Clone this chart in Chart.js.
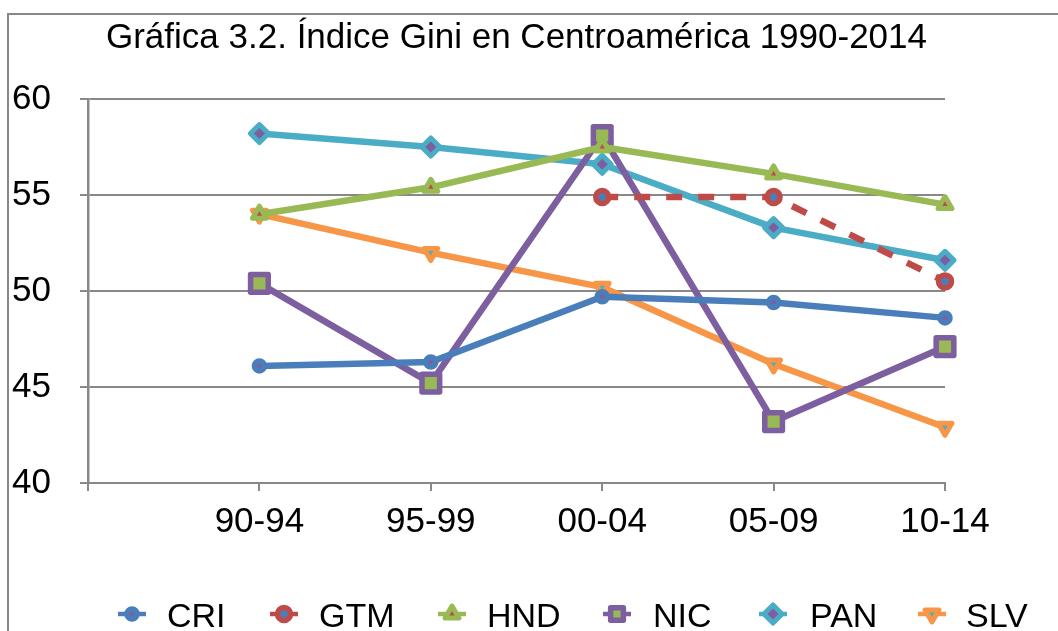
<!DOCTYPE html>
<html>
<head>
<meta charset="utf-8">
<script src="https://cdn.jsdelivr.net/npm/chart.js@4/dist/chart.umd.min.js"></script>
<style>
  html, body { margin: 0; padding: 0; background: #fff; }
  canvas { display: block; }
</style>
</head>
<body>
<canvas id="c" width="1058" height="631"></canvas>
<script>
const titleText = "Gráfica 3.2. Índice Gini en Centroamérica 1990-2014";
const categories = ["", "90-94", "95-99", "00-04", "05-09", "10-14"];
const seriesNames = ["CRI", "GTM", "HND", "NIC", "PAN", "SLV"];
const cri = [null, 46.1, 46.3, 49.7, 49.4, 48.6];
const gtm = [null, null, null, 54.9, 54.9, 50.5];
const hnd = [null, 54.0, 55.4, 57.5, 56.1, 54.5];
const nic = [null, 50.4, 45.2, 58.1, 43.2, 47.1];
const pan = [null, 58.2, 57.5, 56.6, 53.3, 51.6];
const slv = [null, 54.0, 52.0, 50.2, 46.2, 42.9];
const yTicks = [40, 45, 50, 55, 60];

const FONT = "'Liberation Sans', Arial, Helvetica, sans-serif";

const styles = [
  { color: '#4A7EBB', fill: '#7D5FA0', pointStyle: 'circle', radius: 5, bw: 5.5, rot: 0 },
  { color: '#BE4B48', fill: '#4A7EBB', pointStyle: 'circle', radius: 6.5, bw: 5.5, rot: 0, dash: [16, 16] },
  { color: '#98B954', fill: '#BE4B48', pointStyle: 'triangle', radius: 8, bw: 5, rot: 0 },
  { color: '#7D5FA0', fill: '#98B954', pointStyle: 'rect', radius: 12.5, bw: 5.5, rot: 0 },
  { color: '#4BACC6', fill: '#7D5FA0', pointStyle: 'rectRot', radius: 9, bw: 5, rot: 0 },
  { color: '#F79646', fill: '#4BACC6', pointStyle: 'triangle', radius: 8, bw: 5, rot: 180 }
];
const seriesData = [cri, gtm, hnd, nic, pan, slv];

const datasets = seriesNames.map((name, i) => {
  const s = styles[i];
  return {
    label: name,
    data: seriesData[i],
    borderColor: s.color,
    backgroundColor: s.fill,
    borderWidth: 6.5,
    borderDash: s.dash || [],
    borderCapStyle: 'butt',
    borderJoinStyle: 'round',
    pointStyle: s.pointStyle,
    pointRadius: s.radius,
    pointHoverRadius: s.radius,
    pointBorderWidth: s.bw,
    pointBorderColor: s.color,
    pointBackgroundColor: s.fill,
    pointRotation: s.rot,
    tension: 0,
    spanGaps: false,
    clip: false
  };
});

const legendMarkerX = [132, 284, 452, 617, 773, 932];
const legendTextX = [167, 319, 487, 653, 810, 966];

const decorPlugin = {
  id: 'decor',
  beforeDraw(chart) {
    const ctx = chart.ctx;
    ctx.save();
    ctx.fillStyle = '#fff';
    ctx.fillRect(0, 0, chart.width, chart.height);
    ctx.strokeStyle = '#888';
    ctx.lineWidth = 2;
    ctx.beginPath();
    ctx.moveTo(8, chart.height);
    ctx.lineTo(8, 14);
    ctx.lineTo(chart.width, 14);
    ctx.stroke();
    ctx.restore();
  },
  beforeDatasetsDraw(chart) {
    chart.ctx.lineJoin = 'round';
  },
  afterDraw(chart) {
    const ctx = chart.ctx;
    const ca = chart.chartArea;
    ctx.save();
    ctx.fillStyle = '#000';
    ctx.font = '35px ' + FONT;
    ctx.textAlign = 'center';
    ctx.textBaseline = 'alphabetic';
    ctx.fillText(titleText, (ca.left + ca.right) / 2, 48);

    // legend
    const ly = 614;
    seriesNames.forEach((name, i) => {
      const s = styles[i];
      const mx = legendMarkerX[i];
      ctx.save();
      ctx.lineJoin = 'round';
      ctx.strokeStyle = s.color;
      ctx.lineWidth = 4.5;
      ctx.setLineDash([]);
      ctx.beginPath();
      ctx.moveTo(mx - 14, ly);
      ctx.lineTo(mx + 14, ly);
      ctx.stroke();
      ctx.fillStyle = s.fill;
      ctx.strokeStyle = s.color;
      ctx.lineWidth = s.bw;
      Chart.helpers.drawPoint(ctx, {
        pointStyle: s.pointStyle,
        radius: s.pointStyle === 'rect' ? 9 : s.radius,
        rotation: s.rot,
        borderWidth: s.bw
      }, mx, ly);
      ctx.restore();
      ctx.fillStyle = '#000';
      ctx.font = '34px ' + FONT;
      ctx.textAlign = 'left';
      ctx.textBaseline = 'alphabetic';
      ctx.fillText(name, legendTextX[i], 627);
    });
    ctx.restore();
  }
};

new Chart(document.getElementById('c'), {
  type: 'line',
  data: { labels: categories, datasets },
  plugins: [decorPlugin],
  options: {
    responsive: false,
    animation: false,
    devicePixelRatio: 1,
    layout: { padding: { left: 0, right: 113, top: 99, bottom: 0 } },
    plugins: {
      legend: { display: false },
      title: { display: false },
      tooltip: { enabled: false }
    },
    scales: {
      x: {
        type: 'category',
        offset: false,
        afterFit(scale) { scale.height = 148; },
        grid: {
          drawOnChartArea: false,
          drawTicks: true,
          tickLength: 8,
          color: '#888',
          lineWidth: 2
        },
        border: { display: true, color: '#888', width: 2 },
        ticks: {
          color: '#000',
          font: { family: FONT, size: 35 },
          padding: 10,
          maxRotation: 0,
          autoSkip: false
        }
      },
      y: {
        min: 40,
        max: 60,
        afterFit(scale) { scale.width = 88; },
        afterBuildTicks(scale) { scale.ticks = yTicks.map(v => ({ value: v })); },
        grid: {
          drawOnChartArea: true,
          drawTicks: true,
          tickLength: 8,
          color: '#888',
          lineWidth: 2
        },
        border: { display: true, color: '#888', width: 2.5 },
        ticks: {
          color: '#000',
          font: { family: FONT, size: 35 },
          padding: 29
        }
      }
    }
  }
});
</script>
</body>
</html>
